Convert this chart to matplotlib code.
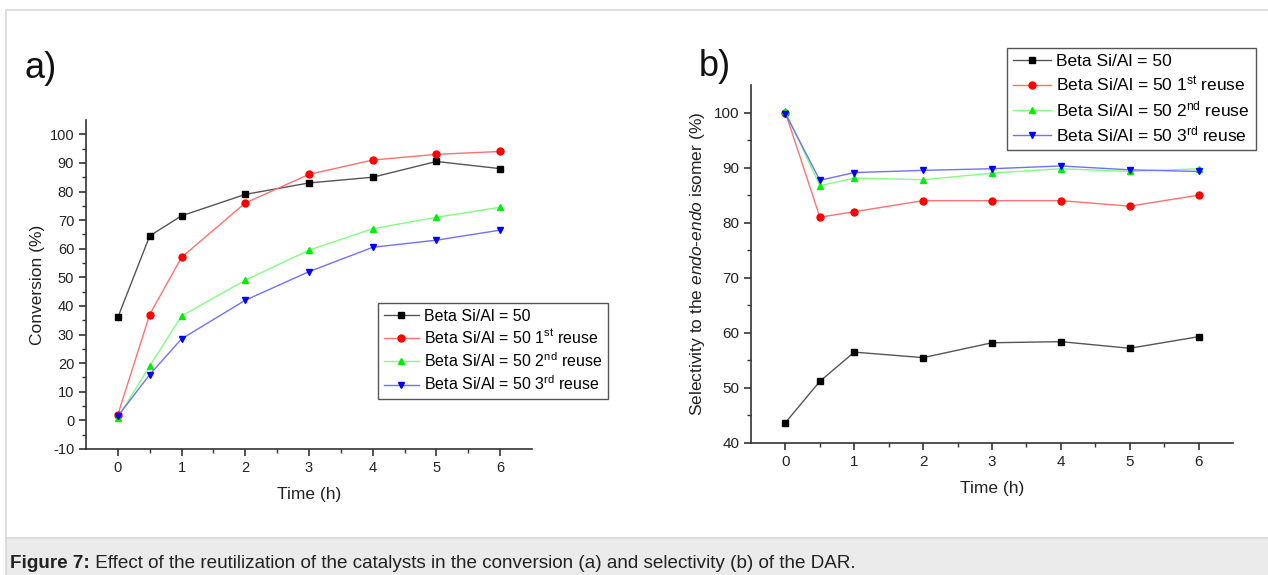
import matplotlib
matplotlib.use("Agg")
import matplotlib.pyplot as plt
from matplotlib.patches import Rectangle

plt.rcParams['font.family'] = ['Liberation Sans', 'DejaVu Sans']
plt.rcParams['mathtext.fontset'] = 'custom'
plt.rcParams['mathtext.rm'] = 'Liberation Sans'
plt.rcParams['mathtext.it'] = 'Liberation Sans:italic'
plt.rcParams['axes.unicode_minus'] = False

# Daten
zeit = [0, 0.5, 1, 2, 3, 4, 5, 6]
labels = ["Beta Si/Al = 50",
          r"Beta Si/Al = 50 1$^{\mathrm{st}}$ reuse",
          r"Beta Si/Al = 50 2$^{\mathrm{nd}}$ reuse",
          r"Beta Si/Al = 50 3$^{\mathrm{rd}}$ reuse"]

umsatz_frisch = [36, 64.5, 71.5, 79, 83, 85, 90.5, 88]
umsatz_1 = [2, 37, 57, 76, 86, 91, 93, 94]
umsatz_2 = [1, 19, 36.5, 49, 59.5, 67, 71, 74.5]
umsatz_3 = [1.5, 16, 28.5, 42, 52, 60.5, 63, 66.5]

selek_frisch = [43.7, 51.2, 56.5, 55.5, 58.2, 58.4, 57.2, 59.3]
selek_1 = [100, 81, 82, 84, 84, 84, 83, 85]
selek_2 = [100.2, 86.7, 88.1, 87.8, 89, 89.8, 89.3, 89.8]
selek_3 = [99.8, 87.7, 89.1, 89.5, 89.8, 90.3, 89.6, 89.3]

# Stil je Serie: Markerfarbe, Linienfarbe, Marker
stile = [('#000000', '#555555', 's'),
         ('#ff0000', '#ff7070', 'o'),
         ('#00ee00', '#80ff80', '^'),
         ('#0000ff', '#7070ff', 'v')]

W, H = 1268, 575
fig = plt.figure(figsize=(W / 100, H / 100), dpi=100)

# Hintergrund: Rahmen und Bildunterschrift
bg = fig.add_axes([0, 0, 1, 1])
bg.set_xlim(0, W)
bg.set_ylim(H, 0)
bg.axis('off')
bg.add_patch(Rectangle((6, 10), W, 528, facecolor='white', edgecolor='#d9d9d9', lw=1.2))
bg.add_patch(Rectangle((6, 538), W, 40, facecolor='#ebebeb', edgecolor='#d9d9d9', lw=1.2))
t1 = bg.text(10, 563, "Figure 7:", fontsize=13.6, fontweight='bold', va='center', color='#222222')
bg.annotate(" Effect of the reutilization of the catalysts in the conversion (a) and selectivity (b) of the DAR.",
            xy=(1, 0), xycoords=t1, va='bottom', ha='left', fontsize=13.6, color='#222222')
bg.text(24, 68, "a)", fontsize=26, va='center', color='#111111')
bg.text(699, 67, "b)", fontsize=26, va='center', color='#111111')


def achse_stylen(ax, groesse):
    for s in ['top', 'right']:
        ax.spines[s].set_visible(False)
    for s in ['left', 'bottom']:
        ax.spines[s].set_color('#333333')
        ax.spines[s].set_linewidth(1.2)
    ax.tick_params(which='major', direction='out', length=5, width=1.2, colors='#333333',
                   labelsize=groesse, labelcolor='#222222')
    ax.tick_params(which='minor', direction='out', length=3, width=1.0, colors='#333333')
    ax.set_xlim(-0.5, 6.5)
    ax.set_xticks(range(7))
    ax.set_xticks([0.5, 1.5, 2.5, 3.5, 4.5, 5.5], minor=True)


def serien_plotten(ax, reihen):
    for werte, (mfarbe, lfarbe, m), lab in zip(reihen, stile, labels):
        ax.plot(zeit, werte, color=lfarbe, lw=1.0, marker=m, markersize=5,
                markerfacecolor=mfarbe, markeredgecolor=mfarbe, label=lab)


def legende(ax, x, y, groesse):
    ax.legend(loc='upper left', bbox_to_anchor=(x / W, 1 - y / H), bbox_transform=fig.transFigure,
              fancybox=False, edgecolor='#555555', fontsize=groesse, handlelength=2.2,
              labelspacing=0.3, borderpad=0.35, handletextpad=0.3, borderaxespad=0,
              framealpha=1)


# a) Umsatz
ax1 = fig.add_axes([86 / W, (H - 449) / H, (532 - 86) / W, (449 - 120) / H])
serien_plotten(ax1, [umsatz_frisch, umsatz_1, umsatz_2, umsatz_3])
achse_stylen(ax1, 10.5)
ax1.set_ylim(-10, 105)
ax1.set_yticks(range(-10, 101, 10))
ax1.set_yticks(range(-5, 101, 10), minor=True)
ax1.set_xlabel("Time (h)", fontsize=12.5, color='#222222', labelpad=9)
ax1.set_ylabel("Conversion (%)", fontsize=12.5, color='#222222', labelpad=3)
legende(ax1, 378, 303, 11.5)

# b) Selektivitaet
ax2 = fig.add_axes([751 / W, (H - 443) / H, (1233 - 751) / W, (443 - 85) / H])
serien_plotten(ax2, [selek_frisch, selek_1, selek_2, selek_3])
achse_stylen(ax2, 11)
ax2.set_ylim(40, 105)
ax2.set_yticks(range(40, 101, 10))
ax2.set_yticks(range(45, 101, 10), minor=True)
ax2.set_xlabel("Time (h)", fontsize=12.5, color='#222222', labelpad=9)
ax2.set_ylabel(r"Selectivity to the $\mathit{endo}$-$\mathit{endo}$ isomer (%)", fontsize=12.5,
               color='#222222', labelpad=5)
legende(ax2, 1007, 48, 12.5)

fig.savefig("out.png", dpi=100)
